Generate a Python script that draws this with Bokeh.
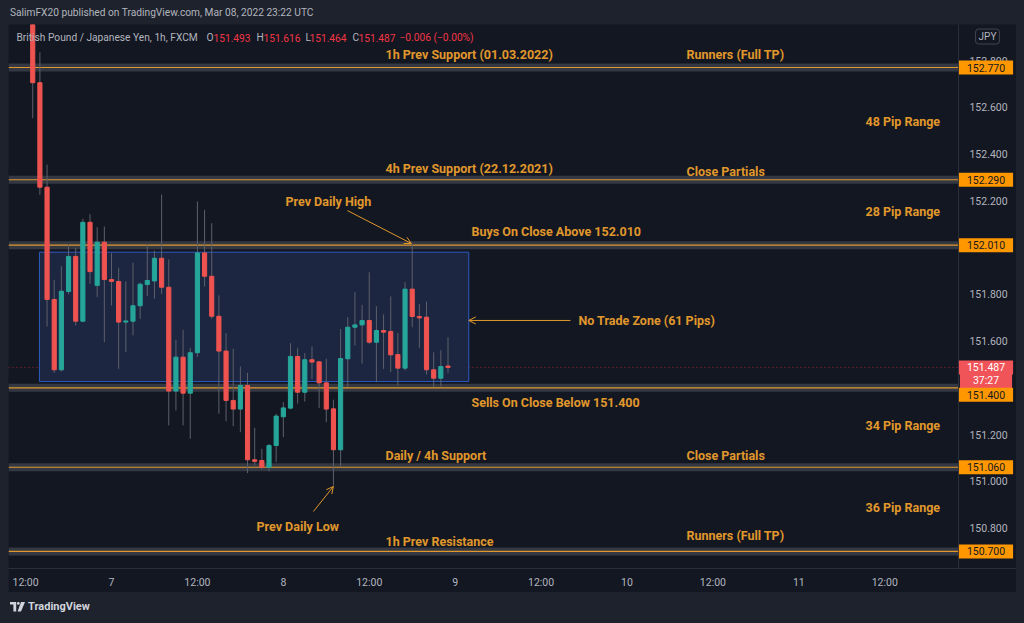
from bokeh.plotting import figure
from bokeh.models import (ColumnDataSource, BoxAnnotation, Label, Arrow, OpenHead,
                          FixedTicker, NumeralTickFormatter, Div, Range1d)
from bokeh.layouts import column
from bokeh.embed import file_html
from bokeh.resources import INLINE
from bokeh.core.properties import value

# ---------------- data (GBP/JPY 1h, FXCM) ----------------
# hour offsets relative to 7 Mar 00:00
hours = list(range(-11, 48))
opens = [153.060, 152.705, 152.258, 151.778, 151.477, 151.812, 151.962, 151.685, 152.108, 151.838,
         152.023, 151.863, 151.855, 151.681, 151.685, 151.751, 151.842, 151.857, 151.954, 151.830,
         151.386, 151.531, 151.377, 151.550, 151.977, 151.877, 151.706, 151.557, 151.346, 151.309,
         151.410, 151.092, 151.089, 151.060, 151.153, 151.276, 151.313, 151.534, 151.381, 151.520,
         151.511, 151.421, 151.310, 151.135, 151.524, 151.659, 151.669, 151.688, 151.595, 151.645,
         151.641, 151.542, 151.484, 151.822, 151.705, 151.702, 151.477, 151.441, 151.493]
highs = [153.100, 152.835, 152.355, 151.862, 151.920, 152.012, 151.999, 152.123, 152.143, 152.087,
         152.090, 151.976, 151.913, 151.855, 151.935, 151.850, 152.013, 151.987, 152.227, 151.949,
         151.605, 151.648, 151.570, 152.197, 152.161, 152.104, 151.795, 151.634, 151.567, 151.491,
         151.464, 151.229, 151.139, 151.160, 151.289, 151.338, 151.591, 151.571, 151.548, 151.577,
         151.514, 151.524, 151.349, 151.652, 151.702, 151.809, 151.755, 151.894, 151.749, 151.714,
         151.791, 151.634, 151.852, 152.016, 151.759, 151.769, 151.552, 151.560, 151.616]
lows = [152.553, 152.225, 151.662, 151.464, 151.470, 151.800, 151.667, 151.680, 151.845, 151.788,
        151.595, 151.752, 151.481, 151.552, 151.624, 151.695, 151.792, 151.781, 151.802, 151.239,
        151.303, 151.239, 151.182, 151.532, 151.833, 151.695, 151.289, 151.257, 151.236, 151.210,
        151.035, 151.068, 151.050, 151.043, 151.082, 151.189, 151.308, 151.332, 151.341, 151.438,
        151.314, 151.253, 150.982, 151.060, 151.403, 151.581, 151.503, 151.588, 151.424, 151.481,
        151.467, 151.410, 151.474, 151.659, 151.571, 151.457, 151.403, 151.405, 151.464]
closes = [152.705, 152.258, 151.778, 151.477, 151.813, 151.962, 151.685, 152.108, 151.897, 152.023,
          151.863, 151.855, 151.681, 151.686, 151.751, 151.843, 151.859, 151.954, 151.830, 151.386,
          151.531, 151.377, 151.550, 151.977, 151.877, 151.706, 151.557, 151.346, 151.309, 151.410,
          151.092, 151.085, 151.060, 151.153, 151.279, 151.314, 151.534, 151.381, 151.520, 151.510,
          151.421, 151.309, 151.135, 151.525, 151.659, 151.669, 151.688, 151.595, 151.645, 151.638,
          151.541, 151.484, 151.822, 151.705, 151.699, 151.477, 151.441, 151.491, 151.487]

level_prices = [152.770, 152.290, 152.010, 151.400, 151.060, 150.700]
level_texts = ["152.770", "152.290", "152.010", "151.400", "151.060", "150.700"]

price_ticks = [150.8, 151.0, 151.2, 151.4, 151.6, 151.8, 152.0, 152.2, 152.4, 152.6, 152.8]
time_ticks = [-12, 0, 12, 24, 36, 48, 60, 72, 84, 96, 108]
time_labels = ["12:00", "7", "12:00", "8", "12:00", "9", "12:00", "10", "12:00", "11", "12:00"]

note_texts = ["1h Prev Support (01.03.2022)", "Runners (Full TP)", "48 Pip Range",
              "4h Prev Support (22.12.2021)", "Close Partials", "Prev Daily High", "28 Pip Range",
              "Buys On Close Above 152.010", "No Trade Zone (61 Pips)", "Sells On Close Below 151.400",
              "34 Pip Range", "Daily / 4h Support", "Close Partials", "36 Pip Range",
              "Prev Daily Low", "1h Prev Resistance", "Runners (Full TP)"]
# left anchor of each note (hours, price)
note_hours = [38.27, 80.31, 105.31, 38.27, 80.31, 24.30, 105.31, 50.28, 65.22, 50.28,
              105.31, 38.27, 80.31, 105.31, 20.25, 38.27, 80.31]
note_prices = [152.826, 152.826, 152.539, 152.338, 152.325, 152.197, 152.154, 152.069, 151.688, 151.337,
               151.239, 151.110, 151.110, 150.888, 150.807, 150.743, 150.768]

# no-trade zone rectangle (hours / prices)
zone_left, zone_right, zone_top, zone_bottom = -10.06, 49.9, 151.980, 151.427
# arrows: (x0, y0, x1, y1)
arrows = [(32.96, 152.158, 41.9, 152.017),
          (28.2, 150.871, 31.0, 150.978),
          (64.1, 151.688, 49.9, 151.688)]

# ---------------- style ----------------
BG = "#131722"
FRAME = "#1e222d"
UP = "#26a69a"
DOWN = "#ef5350"
WICK = "#5d606b"
ORANGE = "#e0982c"
LEVEL_LINE = "#e0982c"
BAND = "#343843"
AXIS_TXT = "#b2b5be"
FONT = "Roboto"

PX_PER_PRICE = 233.8      # px per 1.000 JPY
X_LEFT, X_RIGHT = -14.385, 126.40
X_SEP = 118.296           # where the price scale starts
Y_BOT, Y_TOP = 150.627, 152.954

p = figure(width=1008, height=568, output_backend="svg", toolbar_location=None,
           x_range=Range1d(X_LEFT, X_RIGHT), y_range=Range1d(Y_BOT, Y_TOP),
           y_axis_location="right",
           background_fill_color=BG, border_fill_color=BG,
           min_border_left=0, min_border_right=0, min_border_top=0, min_border_bottom=24)
p.outline_line_color = None
p.grid.visible = False

# axes
p.yaxis.fixed_location = X_SEP
p.yaxis.ticker = FixedTicker(ticks=price_ticks)
p.yaxis.formatter = NumeralTickFormatter(format="0.000")
p.xaxis.ticker = FixedTicker(ticks=time_ticks)
p.xaxis.major_label_overrides = {t: l for t, l in zip(time_ticks, time_labels)}
for ax in (p.xaxis, p.yaxis):
    ax.major_tick_line_color = None
    ax.minor_tick_line_color = None
    ax.major_tick_out = 0
    ax.minor_tick_out = 0
    ax.major_tick_in = 0
    ax.axis_line_color = "#2a2e39"
    ax.major_label_text_color = AXIS_TXT
    ax.major_label_text_font = FONT
    ax.major_label_text_font_size = "10.5px"
p.yaxis.major_label_standoff = 11
p.xaxis.major_label_standoff = 7

# no-trade zone
p.add_layout(BoxAnnotation(left=zone_left, right=zone_right, top=zone_top, bottom=zone_bottom,
                           fill_color="#1c2640", fill_alpha=1.0, line_color="#2f5fcf",
                           line_alpha=0.9, line_width=1, level="underlay"))

# level bands (stop at the price scale)
lsrc = ColumnDataSource(dict(y=level_prices))
p.rect(x=(X_LEFT + X_SEP) / 2, y="y", width=X_SEP - X_LEFT, height=8, height_units="screen",
       source=lsrc, fill_color=BAND, line_color=None, level="underlay")
p.segment(x0=X_LEFT, x1=X_SEP, y0="y", y1="y", source=lsrc, line_color=LEVEL_LINE,
          line_width=1.2, level="underlay")

# current price dotted line
p.segment(x0=X_LEFT, x1=X_SEP, y0=closes[-1], y1=closes[-1], line_color="#f23645", line_alpha=0.6,
          line_dash="1 3", line_width=1, level="underlay")

# candles
src = ColumnDataSource(dict(
    x=hours,
    high=highs, low=lows,
    top=[max(o, c) for o, c in zip(opens, closes)],
    bottom=[min(o, c) for o, c in zip(opens, closes)],
    color=[UP if c >= o else DOWN for o, c in zip(opens, closes)],
))
p.segment(x0="x", y0="low", x1="x", y1="high", line_color=WICK, line_width=1, source=src)
p.vbar(x="x", top="top", bottom="bottom", width=0.58, fill_color="color", line_color="color",
       line_width=1, source=src)

# text notes
nsrc = ColumnDataSource(dict(x=note_hours, y=note_prices, text=note_texts))
p.text(x="x", y="y", text="text", source=nsrc, text_align="left", text_baseline="middle",
       text_color=ORANGE, text_font=value(FONT), text_font_size=value("12.5px"),
       text_font_style="bold")

for x0, y0, x1, y1 in arrows:
    p.add_layout(Arrow(x_start=x0, y_start=y0, x_end=x1, y_end=y1, line_color=ORANGE, line_width=1,
                       end=OpenHead(size=7, line_color=ORANGE, line_width=1)))

# legend line (inside the pane)
legend_y = 152.77 + 30 / PX_PER_PRICE
legend_parts = [("British Pound / Japanese Yen, 1h, FXCM", AXIS_TXT, 8),
                ("O", AXIS_TXT, 198), ("151.493", "#f23645", 205),
                ("H", AXIS_TXT, 248), ("151.616", "#f23645", 255),
                ("L", AXIS_TXT, 297), ("151.464", "#f23645", 301),
                ("C", AXIS_TXT, 344), ("151.487", "#f23645", 350),
                ("\u22120.006 (\u22120.00%)", "#f23645", 391)]
for txt, col, sx in legend_parts:
    p.add_layout(Label(x=sx, y=legend_y, x_units="screen", y_units="data", text=txt,
                       text_color=col, text_font=FONT, text_font_size="10.2px",
                       text_align="left", text_baseline="middle"))

# price-scale boxes
BOX_X = 977.5
last = closes[-1]
p.add_layout(Label(x=BOX_X, y=last - 13 / PX_PER_PRICE, x_units="screen", y_units="data", text="37:27",
                   text_color="white", text_font=FONT, text_font_size="10.5px",
                   text_align="center", text_baseline="middle",
                   background_fill_color="#f05459", padding=(13, 3)))
p.add_layout(Label(x=BOX_X, y=last, x_units="screen", y_units="data", text="151.487",
                   text_color="white", text_font=FONT, text_font_size="10.5px",
                   text_align="center", text_baseline="middle",
                   background_fill_color="#f05459", padding=(8, 3)))
for lv, txt in zip(level_prices, level_texts):
    shift = -7 / PX_PER_PRICE if abs(lv - last) < 0.1 else 0.0
    p.add_layout(Label(x=BOX_X, y=lv + shift, x_units="screen", y_units="data", text=txt,
                       text_color=BG, text_font=FONT, text_font_size="10.5px",
                       text_align="center", text_baseline="middle",
                       background_fill_color="#ff9800", padding=(8, 3)))
p.add_layout(Label(x=979, y=152.77 + 31 / PX_PER_PRICE, x_units="screen", y_units="data", text="JPY",
                   text_color=AXIS_TXT, text_font=FONT, text_font_size="10px",
                   text_align="center", text_baseline="middle",
                   border_line_color="#434651", border_radius=3, padding=(3, 2)))

header = Div(text="SalimFX20 published on TradingView.com, Mar 08, 2022 23:22 UTC",
             width=1008, height=24, margin=0,
             styles={"font-family": "Roboto", "font-size": "10.2px", "color": AXIS_TXT,
                     "line-height": "26px", "text-indent": "2px", "background": FRAME,
                     "white-space": "nowrap"})
logo = ('<svg width="15" height="10" viewBox="0 0 15 10" style="vertical-align:middle;margin-right:3px">'
        '<path d="M0 0H6.2V9.5H3.4V2.6H0Z" fill="#d1d4dc"/>'
        '<circle cx="8.3" cy="1.4" r="1.4" fill="#d1d4dc"/>'
        '<path d="M11 0H15L11 9.5H7.6Z" fill="#d1d4dc"/></svg>')
footer = Div(text=logo + "TradingView", width=1008, height=31, margin=0,
             styles={"font-family": "Roboto", "font-size": "11px", "font-weight": "bold",
                     "color": "#d1d4dc", "line-height": "30px", "text-indent": "2px",
                     "background": FRAME, "white-space": "nowrap"})

layout = column(header, p, footer, spacing=0)
html = file_html(layout, INLINE)
html = html.replace("</head>",
                    "<style>html,body{background:#1e222d !important;}"
                    "body{margin:0 !important;padding:0 0 0 8px !important;}</style></head>", 1)
open("out.html", "w").write(html)
